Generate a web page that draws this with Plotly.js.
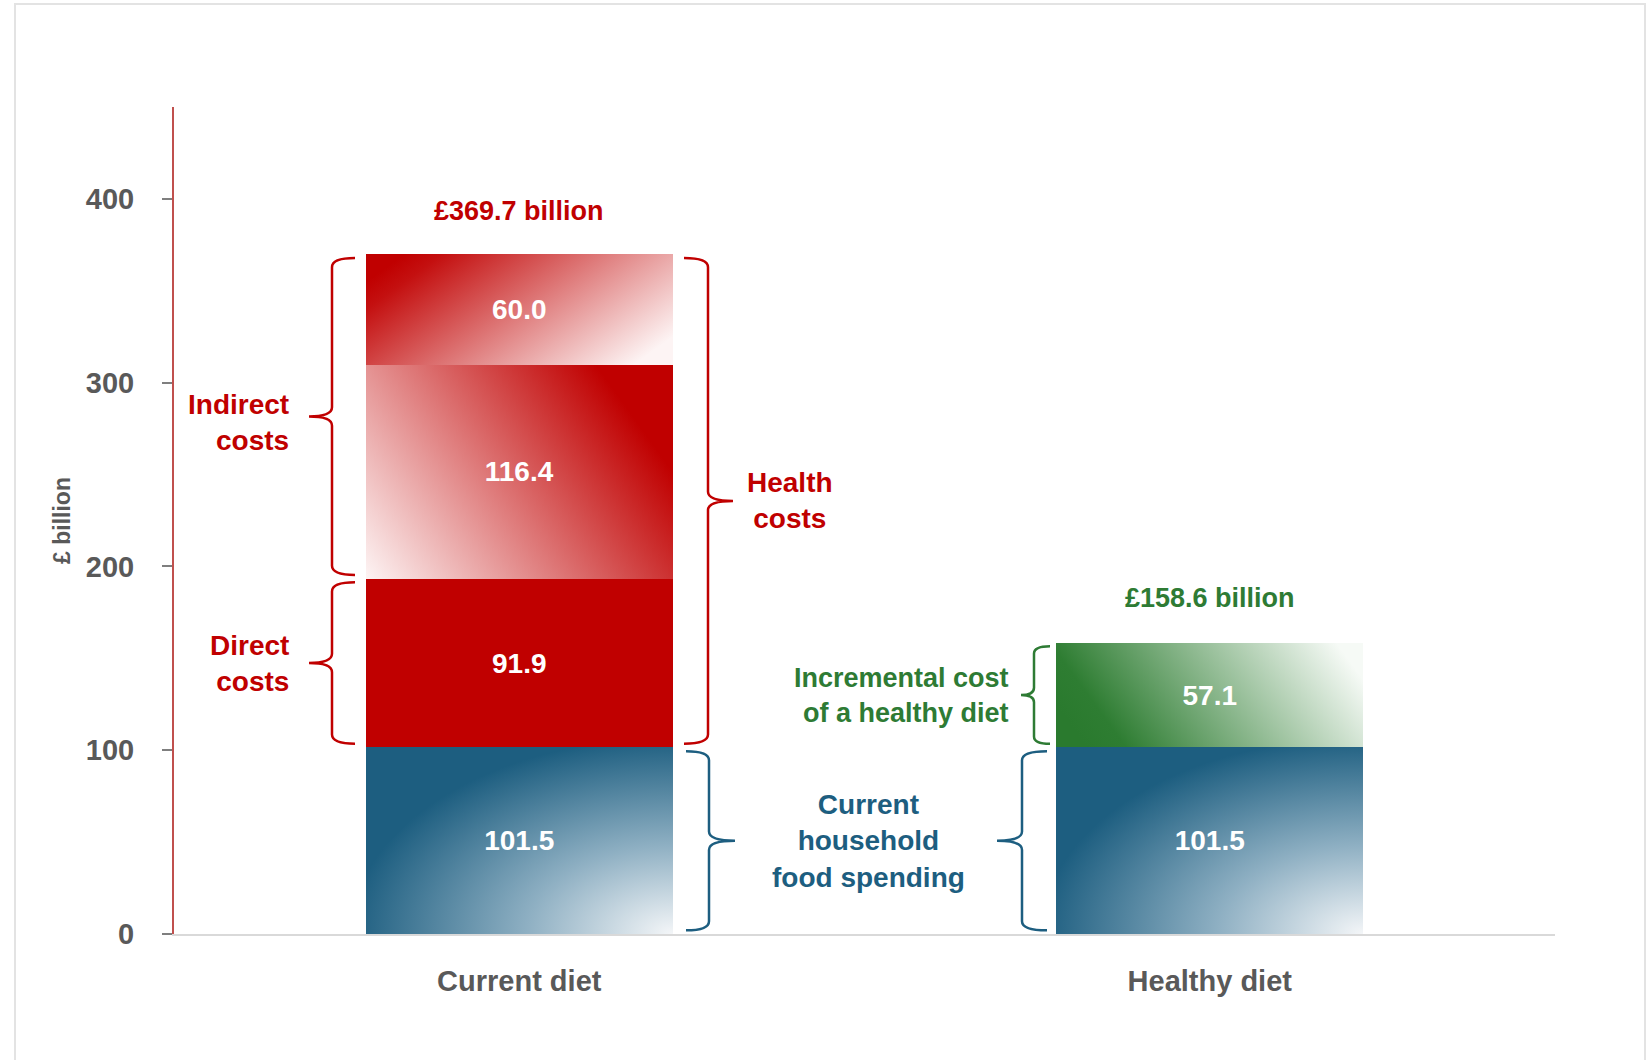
<!DOCTYPE html>
<html>
<head>
<meta charset="utf-8">
<script src="https://cdn.plot.ly/plotly-3.0.1.min.js"></script>
<style>
  html, body { margin: 0; padding: 0; background: #ffffff; }
  #chart { width: 1650px; height: 1060px; }
</style>
</head>
<body>
<div id="chart"></div>
<script>
// ---------------- data ----------------
const categories = ['Current diet', 'Healthy diet'];
const foodSpending = [101.5, 101.5];        // current household food spending
const directCosts = [91.9, null];           // direct health costs
const indirectCostsA = [116.4, null];       // indirect health costs (lower block)
const indirectCostsB = [60.0, null];        // indirect health costs (upper block)
const incrementalCost = [null, 57.1];       // incremental cost of a healthy diet
const totals = [369.7, 158.6];              // totals printed above the bars
const totalLabels = ['£369.7 billion', '£158.6 billion'];
const yTicks = [0, 100, 200, 300, 400];
const yTitle = '£ billion';

// ---------------- styling ----------------
const RED = '#c00000', BLUE = '#1d5e80', GREEN = '#2e7b34', GREY = '#595959';
const FONT = 'Liberation Sans, Arial, sans-serif';

function barTrace(name, y, color) {
  return {
    type: 'bar', name: name, x: categories, y: y,
    width: 0.444,
    marker: { color: color, line: { width: 0 } },
    texttemplate: '%{y:.1f}', textposition: 'inside', insidetextanchor: 'middle',
    textangle: 0,
    textfont: { family: FONT, size: 28, color: '#ffffff', weight: 'bold' },
    hoverinfo: 'skip', showlegend: false
  };
}

const data = [
  barTrace('Current household food spending', foodSpending, BLUE),
  barTrace('Direct costs', directCosts, RED),
  barTrace('Indirect costs (a)', indirectCostsA, RED),
  barTrace('Indirect costs (b)', indirectCostsB, RED),
  barTrace('Incremental cost of a healthy diet', incrementalCost, GREEN)
];

// ---------------- derived stack levels (from the data) ----------------
const lvlFood = foodSpending[0];
const lvlDirect = lvlFood + directCosts[0];
const lvlTop = lvlDirect + indirectCostsA[0] + indirectCostsB[0];
const lvlHealthy = foodSpending[1] + incrementalCost[1];

// plot area geometry (pixels) used to place decorations
const L = 174, R = 95, T = 107, B = 126, W = 1650, H = 1060;
const PW = W - L - R, PH = H - T - B;
const px = p => (p - L) / PW;       // pixel x -> paper x
const py = p => (H - B - p) / PH;   // pixel y -> paper y

function bracePath(tip, spine, cusp, y0, y1, r) {
  const t = px(tip), s = px(spine), c = px(cusp);
  const m = (y0 + y1) / 2;
  return `M${t},${y1} Q${s},${y1} ${s},${y1 - r} L${s},${m + r} Q${s},${m} ${c},${m} ` +
         `Q${s},${m} ${s},${m - r} L${s},${y0 + r} Q${s},${y0} ${t},${y0}`;
}
function brace(tip, spine, cusp, y0, y1, r, color) {
  const inset = 2;
  return {
    type: 'path', xref: 'paper', yref: 'y', layer: 'above',
    path: bracePath(tip, spine, cusp, y0 + inset, y1 - inset, r),
    line: { color: color, width: 2.5 }
  };
}

const shapes = [
  // outer light frame
  { type: 'rect', xref: 'paper', yref: 'paper', x0: px(15), x1: px(1645), y0: py(1064), y1: py(4),
    line: { color: '#e3e3e3', width: 2 }, fillcolor: 'rgba(0,0,0,0)', layer: 'below' },
  brace(355, 332, 309, lvlDirect, lvlTop, 5, RED),          // indirect costs
  brace(355, 332, 309, lvlFood, lvlDirect, 5, RED),         // direct costs
  brace(684, 708, 733, lvlFood, lvlTop, 5, RED),            // health costs
  brace(686, 709, 735, 0, lvlFood, 5, BLUE),                // food spending (current)
  brace(1047, 1022, 997, 0, foodSpending[1], 5, BLUE),      // food spending (healthy)
  brace(1050, 1034, 1021, foodSpending[1], lvlHealthy, 4, GREEN) // incremental
];

const annFont = (color, size) => ({ family: FONT, size: size || 28, color: color, weight: 'bold' });
const annotations = [
  { xref: 'x', yref: 'y', x: categories[0], y: totals[0], yshift: 44, text: totalLabels[0],
    showarrow: false, font: annFont(RED, 27), yanchor: 'middle' },
  { xref: 'x', yref: 'y', x: categories[1], y: totals[1], yshift: 45, text: totalLabels[1],
    showarrow: false, font: annFont(GREEN, 27), yanchor: 'middle' },
  { xref: 'paper', yref: 'y', x: px(291), y: (lvlDirect + lvlTop) / 2, yshift: -6, text: 'Indirect<br>costs',
    xanchor: 'right', align: 'right', showarrow: false, font: annFont(RED) },
  { xref: 'paper', yref: 'y', x: px(291), y: (lvlFood + lvlDirect) / 2, text: 'Direct<br>costs',
    xanchor: 'right', align: 'right', showarrow: false, font: annFont(RED) },
  { xref: 'paper', yref: 'y', x: px(790), y: (lvlFood + lvlTop) / 2, text: 'Health<br>costs',
    xanchor: 'center', align: 'center', showarrow: false, font: annFont(RED) },
  { xref: 'paper', yref: 'y', x: px(868), y: lvlFood / 2, text: 'Current<br>household<br>food spending',
    xanchor: 'center', align: 'center', showarrow: false, font: annFont(BLUE) },
  { xref: 'paper', yref: 'y', x: px(1011), y: (foodSpending[1] + lvlHealthy) / 2,
    text: 'Incremental cost<br>of a healthy diet',
    xanchor: 'right', align: 'right', showarrow: false, font: annFont(GREEN, 27) }
];

const layout = {
  width: W, height: H, autosize: false,
  margin: { l: L, r: R, t: T, b: B, pad: 0 },
  paper_bgcolor: '#ffffff', plot_bgcolor: '#ffffff',
  barmode: 'stack', showlegend: false, hovermode: false,
  font: { family: FONT, color: GREY },
  xaxis: {
    type: 'category', range: [-0.5, 1.5], fixedrange: true,
    showline: true, linecolor: '#d9d9d9', linewidth: 2,
    ticks: '', showgrid: false, zeroline: false,
    tickfont: { family: FONT, size: 29, color: GREY, weight: 'bold' },
    ticklabelstandoff: 20
  },
  yaxis: {
    range: [0, 450], fixedrange: true,
    tickmode: 'array', tickvals: yTicks, ticktext: yTicks.map(String),
    showline: true, linecolor: '#c0504d', linewidth: 2,
    ticks: 'outside', ticklen: 10, tickcolor: '#7f7f7f', tickwidth: 2,
    showgrid: false, zeroline: false,
    tickfont: { family: FONT, size: 29, color: GREY, weight: 'bold' },
    ticklabelstandoff: 22,
    title: { text: yTitle, font: { family: FONT, size: 23, color: GREY, weight: 'bold' }, standoff: 9 }
  },
  shapes: shapes,
  annotations: annotations
};

function addGradients(gd) {
  const svg = gd.querySelector('.main-svg');
  const NS = 'http://www.w3.org/2000/svg';
  const defs = document.createElementNS(NS, 'defs');
  function addStops(g, stops) {
    stops.forEach(s => {
      const st = document.createElementNS(NS, 'stop');
      st.setAttribute('offset', s[0]); st.setAttribute('stop-color', s[1]);
      g.appendChild(st);
    });
  }
  function lin(id, x1, y1, x2, y2, stops) {
    const g = document.createElementNS(NS, 'linearGradient');
    g.setAttribute('id', id);
    g.setAttribute('x1', x1); g.setAttribute('y1', y1);
    g.setAttribute('x2', x2); g.setAttribute('y2', y2);
    addStops(g, stops);
    defs.appendChild(g);
  }
  function rad(id, cx, cy, r, stops) {
    const g = document.createElementNS(NS, 'radialGradient');
    g.setAttribute('id', id);
    g.setAttribute('cx', cx); g.setAttribute('cy', cy); g.setAttribute('r', r);
    g.setAttribute('fx', cx); g.setAttribute('fy', cy);
    addStops(g, stops);
    defs.appendChild(g);
  }
  rad('gBlue', 1, 1, 1.05, [[0, '#f4f6f8'], [0.45, '#8fb0c3'], [1, '#1d5e80']]);
  lin('gRedTop', 0, 0.25, 1, 0.75, [[0, '#c00000'], [0.1, '#c41010'], [1, '#fdf4f4']]);
  lin('gRedMid', 0, 1, 1, 0.5, [[0, '#fdf4f4'], [1, '#c00000']]);
  lin('gGreen', 0, 0.6, 1, 0.35, [[0, '#2a7a2e'], [0.12, '#2e7d32'], [1, '#f6faf6']]);
  svg.insertBefore(defs, svg.firstChild);

  const fills = ['url(#gBlue)', null, 'url(#gRedMid)', 'url(#gRedTop)', 'url(#gGreen)'];
  const traces = gd.querySelectorAll('.barlayer .trace');
  traces.forEach((tr, i) => {
    if (!fills[i]) return;
    tr.querySelectorAll('.point path').forEach(p => { p.style.fill = fills[i]; });
  });
}

Plotly.newPlot('chart', data, layout, { displayModeBar: false, staticPlot: true })
  .then(addGradients);
</script>
</body>
</html>
